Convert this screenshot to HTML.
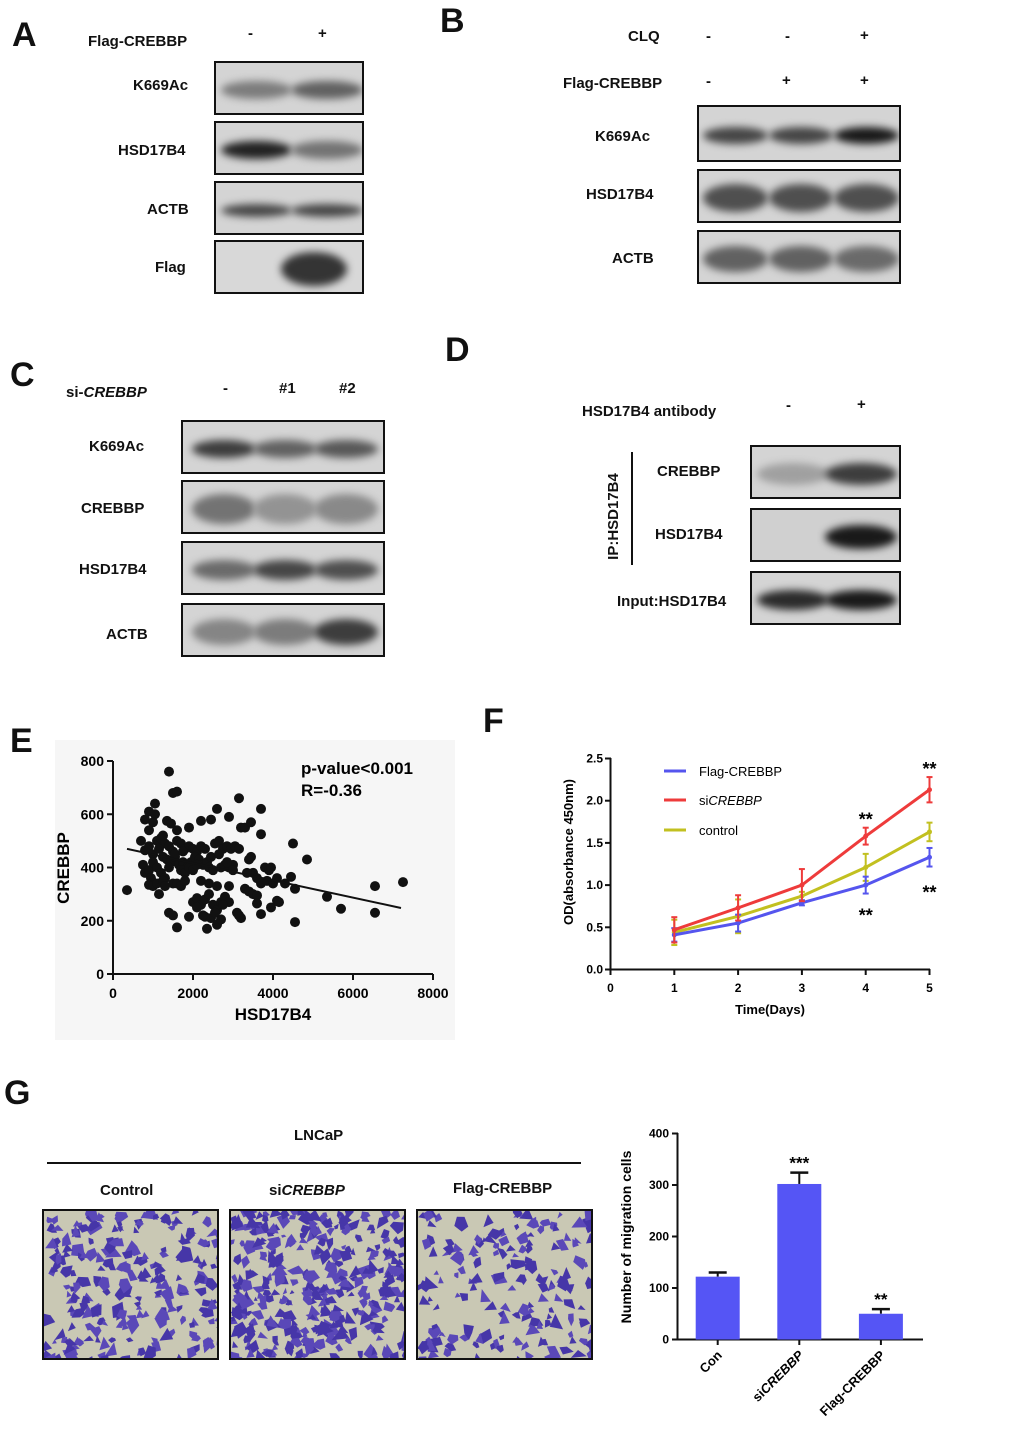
<!DOCTYPE html>
<html><head><meta charset="utf-8">
<style>
body{margin:0;background:#fff;}
#root{position:relative;width:1020px;height:1438px;overflow:hidden;font-family:"Liberation Sans",sans-serif;font-weight:bold;color:#111;}
.t{position:absolute;white-space:nowrap;font-size:15px;}
.L{position:absolute;font-size:34px;font-weight:bold;}
.blot{position:absolute;border:2px solid #111;background:#d4d4d4;overflow:hidden;box-sizing:border-box;}
.band{position:absolute;border-radius:50%;filter:blur(4px);}
.mic{position:absolute;border:2px solid #111;background:#c9c8b4;overflow:hidden;box-sizing:border-box;}
svg text{font-family:"Liberation Sans",sans-serif;font-weight:bold;}
</style></head><body>
<div id="root">
<div class="L" style="left:12px;top:16px">A</div>
<div class="L" style="left:440px;top:2px">B</div>
<div class="L" style="left:10px;top:356px">C</div>
<div class="L" style="left:445px;top:331px">D</div>
<div class="L" style="left:10px;top:722px">E</div>
<div class="L" style="left:483px;top:702px">F</div>
<div class="L" style="left:4px;top:1074px">G</div>

<!-- A -->
<div class="t" style="left:88px;top:33px">Flag-CREBBP</div>
<div class="t" style="left:248px;top:25px">-</div>
<div class="t" style="left:318px;top:25px">+</div>
<div class="t" style="left:133px;top:77px">K669Ac</div>
<div class="t" style="left:118px;top:142px">HSD17B4</div>
<div class="t" style="left:147px;top:201px">ACTB</div>
<div class="t" style="left:155px;top:259px">Flag</div>
<!-- B -->
<div class="t" style="left:628px;top:28px">CLQ</div>
<div class="t" style="left:706px;top:28px">-</div>
<div class="t" style="left:785px;top:28px">-</div>
<div class="t" style="left:860px;top:27px">+</div>
<div class="t" style="left:563px;top:75px">Flag-CREBBP</div>
<div class="t" style="left:706px;top:73px">-</div>
<div class="t" style="left:782px;top:72px">+</div>
<div class="t" style="left:860px;top:72px">+</div>
<div class="t" style="left:595px;top:128px">K669Ac</div>
<div class="t" style="left:586px;top:186px">HSD17B4</div>
<div class="t" style="left:612px;top:250px">ACTB</div>
<!-- C -->
<div class="t" style="left:66px;top:384px">si-<i>CREBBP</i></div>
<div class="t" style="left:223px;top:380px">-</div>
<div class="t" style="left:279px;top:380px">#1</div>
<div class="t" style="left:339px;top:380px">#2</div>
<div class="t" style="left:89px;top:438px">K669Ac</div>
<div class="t" style="left:81px;top:500px">CREBBP</div>
<div class="t" style="left:79px;top:561px">HSD17B4</div>
<div class="t" style="left:106px;top:626px">ACTB</div>
<!-- D -->
<div class="t" style="left:582px;top:403px">HSD17B4 antibody</div>
<div class="t" style="left:786px;top:397px">-</div>
<div class="t" style="left:857px;top:396px">+</div>
<div class="t" style="left:657px;top:463px">CREBBP</div>
<div class="t" style="left:655px;top:526px">HSD17B4</div>
<div class="t" style="left:617px;top:593px">Input:HSD17B4</div>
<div class="t" style="left:570px;top:508px;transform:rotate(-90deg);transform-origin:center">IP:HSD17B4</div>
<div style="position:absolute;left:631px;top:452px;width:2px;height:113px;background:#111"></div>

<!-- G header -->
<div class="t" style="left:294px;top:1127px">LNCaP</div>
<div style="position:absolute;left:47px;top:1162px;width:534px;height:2px;background:#111"></div>
<div class="t" style="left:100px;top:1182px">Control</div>
<div class="t" style="left:269px;top:1182px">si<i>CREBBP</i></div>
<div class="t" style="left:453px;top:1180px">Flag-CREBBP</div>

<div style="position:absolute;left:55px;top:740px;width:400px;height:300px;background:#f6f6f6"></div>
<svg id="svgE" style="position:absolute;left:0;top:0" width="1020" height="1438"></svg>
</div>

<script>
// ===== Panel E data =====
const eX=[350,1400,1500,1600,1050,3150,2600,3700,900,1050,800,1000,1350,1450,1600,900,2200,2450,2900,3200,3300,3450,1900,3700,700,800,900,1000,1100,1200,1300,1400,1500,1600,1700,1800,1900,2000,2100,2200,2300,1150,1250,1350,1450,1550,1650,1750,1850,1950,2050,2150,2250,2350,2450,2550,2650,2750,2850,2950,3050,3150,3450,3400,750,800,900,950,1000,1100,1200,1300,1400,1700,1800,1900,2000,2100,2400,2500,2700,2800,2900,3000,3000,900,1000,1100,1150,1250,1300,1500,1600,1700,1800,2200,2400,2600,2900,3300,3400,3500,3600,3700,3800,3900,3950,3850,4000,4100,4300,4450,4550,4500,4850,5350,5700,6550,6550,7250,3500,3600,3600,3700,3950,4100,4150,2000,2100,2200,2300,2400,2500,2600,2700,2800,2900,2450,2350,2600,2700,2300,2550,3150,3200,3100,1400,1500,1600,1900,4550,2100,2750,2250,1250,1550,1750,2650,2850,3350];
const eY=[315,760,680,685,640,660,620,620,610,600,580,570,575,565,540,540,575,580,590,550,550,570,550,525,500,465,480,450,500,510,490,480,460,500,490,470,480,470,460,480,470,470,440,430,420,440,410,420,400,420,440,430,410,420,440,490,500,470,480,470,480,470,440,430,410,380,390,360,420,400,380,360,400,390,380,400,390,410,400,390,400,410,400,410,390,335,330,340,300,350,330,340,340,330,350,350,340,330,330,320,310,380,360,340,400,390,400,350,340,360,340,365,320,490,430,290,245,330,230,345,300,295,265,225,250,275,270,270,285,260,280,300,260,240,270,290,270,210,170,185,205,215,230,220,210,230,230,220,175,215,195,250,260,220,520,450,460,450,420,380];
const eTicksX=[0,2000,4000,6000,8000];
const eTicksY=[0,200,400,600,800];
const eFit=[[350,470],[7200,248]];
// ===== Panel F data =====
const fDays=[1,2,3,4,5];
const fTicksX=[0,1,2,3,4,5];
const fTicksY=[0,0.5,1.0,1.5,2.0,2.5];
const fFlag=[0.41,0.55,0.79,1.0,1.33];
const fFlagErr=[0.08,0.1,0.03,0.1,0.11];
const fSi=[0.47,0.73,1.0,1.58,2.13];
const fSiErr=[0.15,0.15,0.19,0.1,0.15];
const fCtl=[0.44,0.63,0.87,1.21,1.63];
const fCtlErr=[0.15,0.2,0.05,0.16,0.11];
// ===== Panel G data =====
const gCats=["Con","siCREBBP","Flag-CREBBP"];
const gVals=[122,302,50];
const gErr=[8,22,9];
const gStars=["","***","**"];
const gTicks=[0,100,200,300,400];

const NS="http://www.w3.org/2000/svg";
const svg=document.getElementById('svgE');
function el(tag,attrs,parent){const e=document.createElementNS(NS,tag);for(const k in attrs)e.setAttribute(k,attrs[k]);(parent||svg).appendChild(e);return e;}
function txt(s,attrs){const e=el('text',attrs);e.textContent=s;return e;}

// ---- E ----
const ex=v=>113+v/8000*320, ey=v=>974-v/800*213;
let a=el('line',{x1:113,y1:974,x2:433,y2:974,stroke:'#111','stroke-width':2});

a=el('line',{x1:113,y1:974,x2:113,y2:761,stroke:'#111','stroke-width':2});

eTicksX.forEach(v=>{el('line',{x1:ex(v),y1:974,x2:ex(v),y2:980,stroke:'#111','stroke-width':2});
 const t=txt(String(v),{x:ex(v),y:998,'font-size':14,'text-anchor':'middle'});
 });
eTicksY.forEach(v=>{el('line',{x1:107,y1:ey(v),x2:113,y2:ey(v),stroke:'#111','stroke-width':2});
 const t=txt(String(v),{x:104,y:ey(v)+5,'font-size':14,'text-anchor':'end'});
 });
for(let i=0;i<eX.length;i++){const c=el('circle',{cx:ex(eX[i]),cy:ey(eY[i]),r:5,fill:'#111'});
 }
a=el('line',{x1:ex(eFit[0][0]),y1:ey(eFit[0][1]),x2:ex(eFit[1][0]),y2:ey(eFit[1][1]),stroke:'#111','stroke-width':2});

a=txt('CREBBP',{x:0,y:0,'font-size':17,'text-anchor':'middle',transform:'translate(69,868) rotate(-90)'});

a=txt('HSD17B4',{x:273,y:1020,'font-size':17,'text-anchor':'middle'});

a=txt('p-value<0.001',{x:301,y:774,'font-size':17});

a=txt('R=-0.36',{x:301,y:796,'font-size':17});


// ---- F ----
const fx=v=>610.5+v*63.8, fy=v=>969.5-v/2.5*211;
a=el('line',{x1:610,y1:969.5,x2:930,y2:969.5,stroke:'#111','stroke-width':2});

a=el('line',{x1:610.5,y1:969.5,x2:610.5,y2:758,stroke:'#111','stroke-width':2});

fTicksX.forEach(v=>{el('line',{x1:fx(v),y1:969,x2:fx(v),y2:975,stroke:'#111','stroke-width':2});
 const t=txt(String(v),{x:fx(v),y:992,'font-size':12,'text-anchor':'middle'});
 });
fTicksY.forEach(v=>{el('line',{x1:605,y1:fy(v),x2:611,y2:fy(v),stroke:'#111','stroke-width':2});
 const t=txt(v.toFixed(1),{x:603,y:fy(v)+4,'font-size':12,'text-anchor':'end'});
 });
function series(vals,errs,color,name){
 errs.forEach((e,i)=>{const x=fx(fDays[i]);
  el('line',{x1:x,y1:fy(vals[i]-e),x2:x,y2:fy(vals[i]+e),stroke:color,'stroke-width':2});
  el('line',{x1:x-3,y1:fy(vals[i]-e),x2:x+3,y2:fy(vals[i]-e),stroke:color,'stroke-width':2});
  el('line',{x1:x-3,y1:fy(vals[i]+e),x2:x+3,y2:fy(vals[i]+e),stroke:color,'stroke-width':2});});
 const p=el('polyline',{points:vals.map((v,i)=>fx(fDays[i])+','+fy(v)).join(' '),fill:'none',stroke:color,'stroke-width':3});
 
 vals.forEach((v,i)=>el('circle',{cx:fx(fDays[i]),cy:fy(v),r:2.5,fill:color}));
}
series(fCtl,fCtlErr,'#c2c020','f-control-line');
series(fFlag,fFlagErr,'#5555ee','f-flag-line');
series(fSi,fSiErr,'#ee3b3b','f-si-line');
[['Flag-CREBBP','#5555ee',771],['siCREBBP','#ee3b3b',800],['control','#c2c020',830]].forEach((d,i)=>{
 el('line',{x1:664,y1:d[2],x2:686,y2:d[2],stroke:d[1],'stroke-width':3});
 const t=el('text',{x:699,y:d[2]+5,'font-size':13,style:'font-weight:normal'});
 if(i==1){t.innerHTML='si<tspan font-style="italic">CREBBP</tspan>';}else t.textContent=d[0];
 });
[[4,fSi[3]+fSiErr[3],-8],[5,fSi[4]+fSiErr[4],-8],[4,fFlag[3]-fFlagErr[3],22],[5,fFlag[4]-fFlagErr[4],26]].forEach(s=>{
 const t=txt('**',{x:fx(s[0]),y:fy(s[1])+s[2]+6,'font-size':18,'text-anchor':'middle'});
 });
a=txt('OD(absorbance 450nm)',{x:0,y:0,'font-size':13,'text-anchor':'middle',transform:'translate(573,852) rotate(-90)'});

a=txt('Time(Days)',{x:770,y:1014,'font-size':13,'text-anchor':'middle'});


// ---- G ----
const gy=v=>1339.5-v/400*206, gx=i=>717.7+i*81.6;
a=el('line',{x1:677.5,y1:1339.5,x2:923,y2:1339.5,stroke:'#111','stroke-width':2});

a=el('line',{x1:677.5,y1:1340,x2:677.5,y2:1133,stroke:'#111','stroke-width':2});

gTicks.forEach(v=>{el('line',{x1:672,y1:gy(v),x2:678,y2:gy(v),stroke:'#111','stroke-width':2});
 const t=txt(String(v),{x:669,y:gy(v)+4,'font-size':12,'text-anchor':'end'});
 });
gVals.forEach((v,i)=>{const x=gx(i);
 el('line',{x1:x,y1:gy(v),x2:x,y2:gy(v+gErr[i]),stroke:'#111','stroke-width':2});
 el('line',{x1:x-9,y1:gy(v+gErr[i]),x2:x+9,y2:gy(v+gErr[i]),stroke:'#111','stroke-width':2.5});
 const r=el('rect',{x:x-22,y:gy(v),width:44,height:1339.5-gy(v),fill:'#5555f5'});
 
 el('line',{x1:x,y1:1340,x2:x,y2:1345,stroke:'#111','stroke-width':2});
 if(gStars[i]){const t=txt(gStars[i],{x:x,y:gy(v+gErr[i])-4,'font-size':17,'text-anchor':'middle'});
  }
 const l=el('text',{x:0,y:0,'font-size':13,'text-anchor':'end',transform:'translate('+(x+5)+',1356) rotate(-45)'});
 if(i==1)l.innerHTML='si<tspan font-style="italic">CREBBP</tspan>';else l.textContent=gCats[i];
 });
a=txt('Number of migration cells',{x:0,y:0,'font-size':14,'text-anchor':'middle',transform:'translate(631,1237) rotate(-90)'});


// ---- Blots ----
const root=document.getElementById('root');
function blot(name,x,y,w,h,lanes,ints,opts){
 const b=document.createElement('div');b.className='blot';
 b.style.cssText+=`left:${x}px;top:${y}px;width:${w}px;height:${h}px;background:${(opts&&opts.bg)||'#d4d4d4'}`;
 
 
 root.appendChild(b);
 lanes.forEach((c,i)=>{if(!ints[i])return;const d=document.createElement('div');d.className='band';
  const bw=(opts&&opts.bw)||w/lanes.length*0.95, bh=(opts&&opts.bh)||h*0.34;
  const k=ints[i];const g=Math.round(205-180*k);
  d.style.cssText+=`left:${c*w-bw/2}px;top:${h*0.5-bh/2}px;width:${bw}px;height:${bh}px;background:rgb(${g},${g},${g})`;
  b.appendChild(d);});
}
blot('a-k669ac-blot',214,61,150,54,[0.27,0.74],[0.45,0.6]);
blot('a-hsd17b4-blot',214,121,150,54,[0.27,0.74],[0.95,0.5]);
blot('a-actb-blot',214,181,150,54,[0.27,0.74],[0.75,0.75],{bh:13});
blot('a-flag-blot',214,240,150,54,[0.3,0.65],[0,0.85],{bh:34,bw:66,bg:'#d8d8d8'});
blot('b-k669ac-blot',697,105,204,57,[0.18,0.5,0.82],[0.75,0.75,1.0],{bh:17});
blot('b-hsd17b4-blot',697,169,204,54,[0.18,0.5,0.82],[0.7,0.7,0.7],{bh:28});
blot('b-actb-blot',697,230,204,54,[0.18,0.5,0.82],[0.6,0.6,0.55],{bh:26});
blot('c-k669ac-blot',181,420,204,54,[0.2,0.5,0.8],[0.8,0.6,0.65],{bh:18});
blot('c-crebbp-blot',181,480,204,54,[0.2,0.5,0.8],[0.5,0.32,0.38],{bh:30});
blot('c-hsd17b4-blot',181,541,204,54,[0.2,0.5,0.8],[0.55,0.75,0.7],{bh:20});
blot('c-actb-blot',181,603,204,54,[0.2,0.5,0.8],[0.4,0.45,0.8],{bh:26});
blot('d-crebbp-blot',750,445,151,54,[0.27,0.72],[0.25,0.8],{bh:22});
blot('d-hsd17b4-blot',750,508,151,54,[0.27,0.72],[0,1.0],{bh:24,bg:'#d0d0d0'});
blot('d-input-blot',750,571,151,54,[0.27,0.72],[0.9,1.0],{bh:20});

// ---- Micrographs (decorative texture) ----
function mic(name,x,n,seed){
 const m=document.createElement('div');m.className='mic';
 m.style.cssText+=`left:${x}px;top:1209px;width:177px;height:151px`;
 
 
 root.appendChild(m);
 let s=seed;const rnd=()=>{s=(s*16807)%2147483647;return s/2147483647;};
 let html='<svg width="177" height="151">';
 for(let i=0;i<n;i++){const cx=rnd()*177,cy=rnd()*151,r=3+rnd()*4;
  let pts=[];const k=3+Math.floor(rnd()*3);
  for(let j=0;j<k;j++){const ang=j/k*6.283+rnd()*0.8,rr=r*(0.6+rnd()*0.9);pts.push((cx+Math.cos(ang)*rr).toFixed(1)+','+(cy+Math.sin(ang)*rr).toFixed(1));}
  const col=rnd()<0.5?'#4636a8':'#5a48b8';
  html+=`<polygon points="${pts.join(' ')}" fill="${col}"/>`;}
 html+='</svg>';m.innerHTML=html;
}
mic('g-control-image',42,230,12345);
mic('g-si-image',229,340,777);
mic('g-flag-image',416,170,4242);
</script>
</body></html>
